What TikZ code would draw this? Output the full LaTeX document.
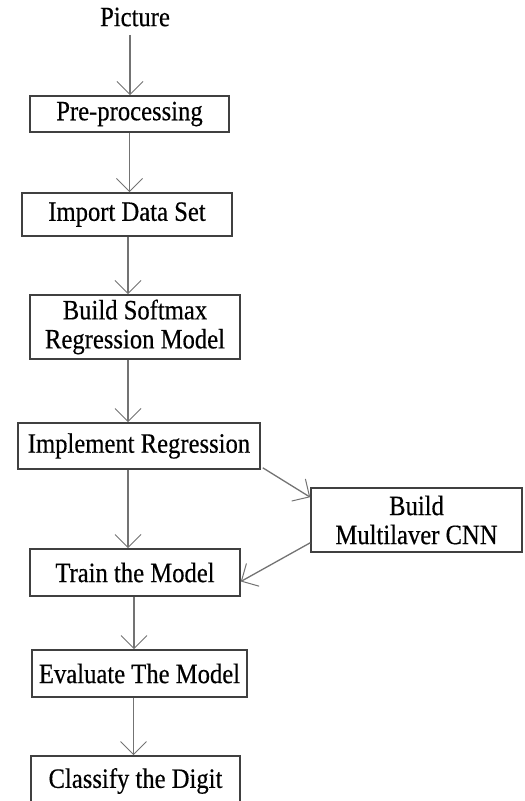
\documentclass[tikz,border=0pt]{standalone}
\usepackage{fontspec}
\setmainfont{Liberation Serif}[FakeStretch=0.88,FakeBold=0.4]
\usetikzlibrary{arrows.meta}

\begin{document}
\begin{tikzpicture}[x=1pt,y=-1pt,
  box/.style={draw=black!75,line width=1.6pt,inner sep=0pt,align=center,
    font=\fontsize{28}{29}\selectfont},
  flow/.style={draw=black!55,line width=1.3pt,-{Straight Barb[length=13pt,width=26pt,line width=1pt]}}]
\useasboundingbox (0,0) rectangle (525,801);
\node[font=\fontsize{28}{29}\selectfont] (picture) at (135,17) {Picture};
\node[box,minimum width=199pt,minimum height=36pt] (prep) at (129.5,114) {Pre-processing};
\node[box,minimum width=210pt,minimum height=43pt] (import) at (127,214.5) {Import Data Set};
\node[box,minimum width=210pt,minimum height=64pt] (softmax) at (135,327) {Build Softmax\\Regression Model};
\node[box,minimum width=242pt,minimum height=46pt] (implement) at (139,446) {Implement Regression};
\node[box,minimum width=211pt,minimum height=64pt] (cnn) at (416.5,520) {Build\\Multilaver CNN};
\node[box,minimum width=210pt,minimum height=47pt] (train) at (135,572.5) {Train the Model};
\node[box,minimum width=215pt,minimum height=47pt] (evaluate) at (139.5,673.5) {Evaluate The Model};
\node[box,minimum width=209pt,minimum height=50pt] (classify) at (135.5,781) {Classify the Digit};
\draw[flow,shorten <=5pt] ([xshift=-5pt]picture.south) -- ([xshift=-5pt]picture.south |- prep.north);
\draw[flow] (prep.south) -- (prep.south |- import.north);
\draw[flow] ([xshift=1pt]import.south) -- ([xshift=1pt]import.south |- softmax.north);
\draw[flow] ([xshift=-7pt]softmax.south) -- ([xshift=-7pt]softmax.south |- implement.north);
\draw[flow] ([xshift=-11pt]implement.south) -- ([xshift=-11pt]implement.south |- train.north);
\draw[flow] ([xshift=-1pt]train.south) -- ([xshift=-1pt]train.south |- evaluate.north);
\draw[flow] ([xshift=-6pt]evaluate.south) -- ([xshift=-6pt]evaluate.south |- classify.north);
\draw[flow] ([xshift=2pt,yshift=2pt]implement.south east) -- ([yshift=-10pt]cnn.north west);
\draw[flow] ([yshift=10pt]cnn.south west) -- ([yshift=-9pt]train.east);
\end{tikzpicture}
\end{document}
